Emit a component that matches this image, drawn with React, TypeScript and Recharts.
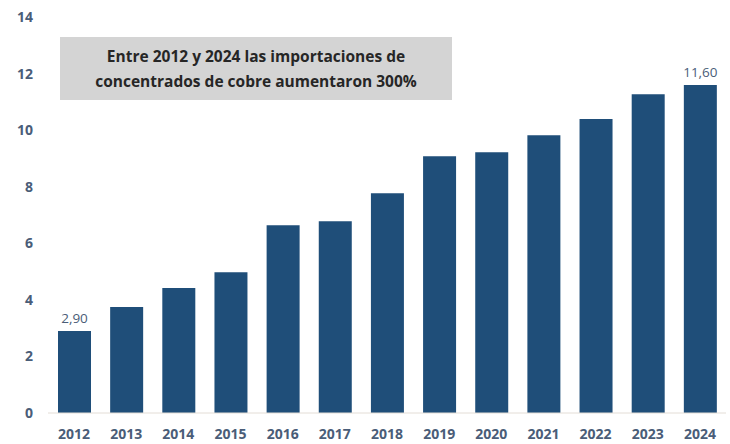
import { BarChart, Bar, XAxis, YAxis, LabelList } from "recharts";

const years = ["2012", "2013", "2014", "2015", "2016", "2017", "2018", "2019", "2020", "2021", "2022", "2023", "2024"];
const imports = [2.9, 3.75, 4.42, 4.98, 6.64, 6.78, 7.77, 9.08, 9.22, 9.82, 10.39, 11.27, 11.6];
const yTicks = [0, 2, 4, 6, 8, 10, 12, 14];
const noteLines = ["Entre 2012 y 2024 las importaciones de", "concentrados de cobre aumentaron 300%"];

const data = years.map((y, i) => ({ year: y, value: imports[i] }));

const FONT = "'Open Sans', sans-serif";
const TICK_COLOR = "#4a5d78";

const EdgeLabel = (props: any) => {
    const { x, y, width, value, index } = props;
    if (index !== 0 && index !== data.length - 1) return null;
    return (
        <text x={x + width / 2} y={y - 8} textAnchor="middle" fill={TICK_COLOR}
            fontSize={13.5} fontFamily={FONT}>
            {Number(value).toFixed(2).replace(".", ",")}
        </text>
    );
};

export default function App() {
    return (
        <div style={{ position: "absolute", left: 0, top: 0, width: 730, height: 444, background: "#fff" }}>
            <BarChart width={730} height={444} data={data}
                margin={{ top: 17, right: 4, left: 0, bottom: 0 }}>
                <XAxis dataKey="year" height={31} tickLine={false} tickSize={0} tickMargin={16}
                    axisLine={{ stroke: "#e3ddd6" }}
                    tick={{ fill: TICK_COLOR, fontSize: 14, fontWeight: 700, fontFamily: FONT }} />
                <YAxis domain={[0, 14]} ticks={yTicks} width={48} axisLine={false} tickLine={false}
                    tickSize={0} tickMargin={15}
                    tick={{ fill: TICK_COLOR, fontSize: 14, fontWeight: 700, fontFamily: FONT }} />
                <Bar dataKey="value" fill="#1f4e79" barSize={33} isAnimationActive={false}>
                    <LabelList dataKey="value" content={EdgeLabel} />
                </Bar>
            </BarChart>
            <div style={{
                position: "absolute", left: 60, top: 37, width: 392, height: 63,
                background: "#d4d4d4", display: "flex", flexDirection: "column",
                justifyContent: "center", alignItems: "center",
                fontFamily: FONT, fontWeight: 700, fontSize: 15.5, color: "#262626", lineHeight: "25px"
            }}>
                {noteLines.map((l) => <div key={l}>{l}</div>)}
            </div>
        </div>
    );
}
